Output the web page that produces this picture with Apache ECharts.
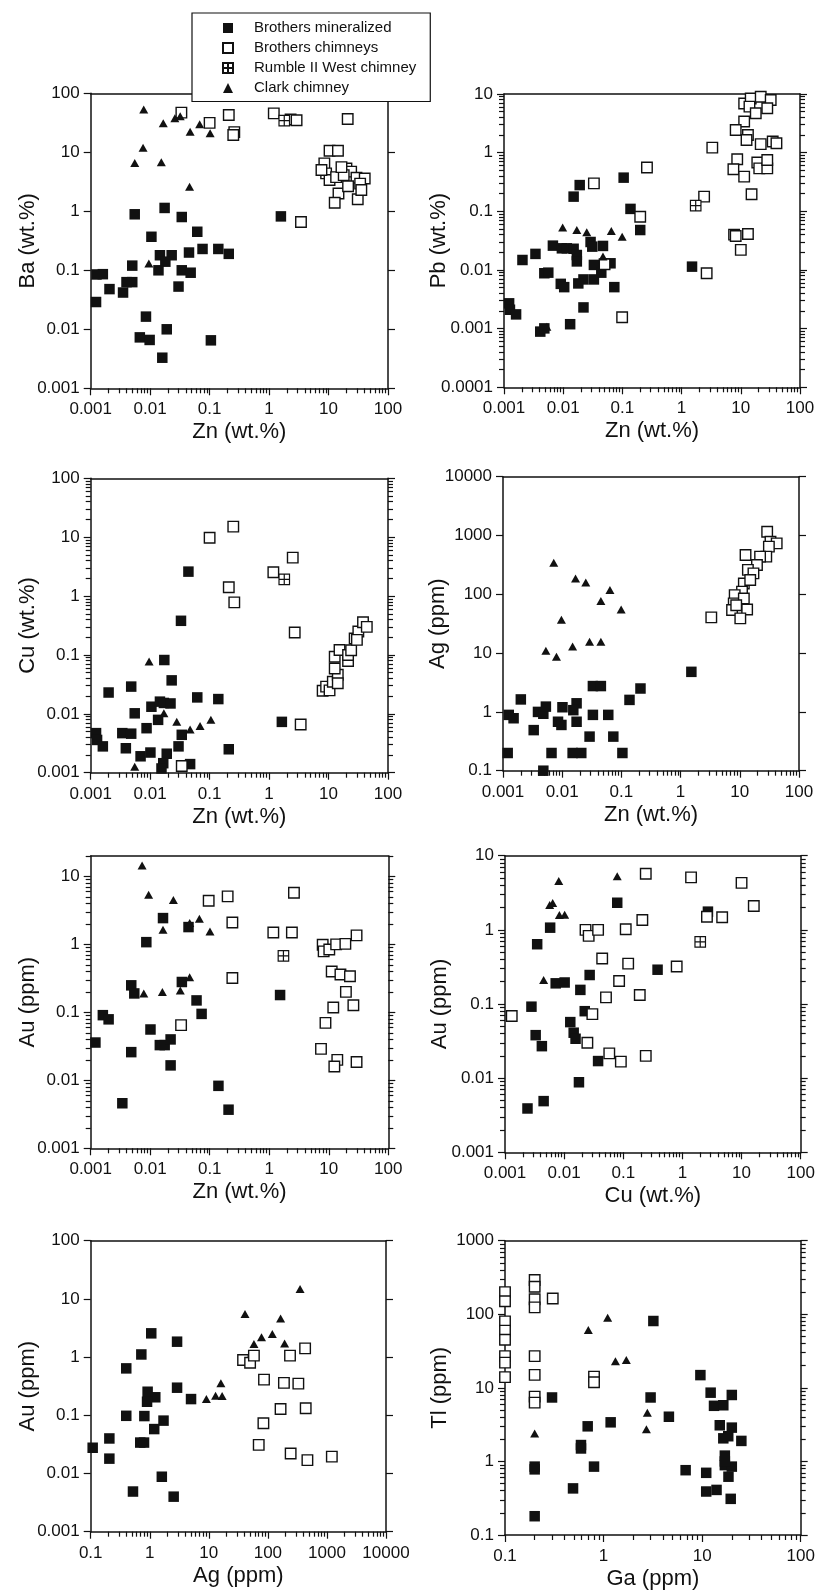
<!DOCTYPE html>
<html>
<head>
<meta charset="utf-8">
<title>Brothers / Clark chimney geochemistry</title>
<script src="https://cdn.jsdelivr.net/npm/echarts@6/dist/echarts.min.js"></script>
<style>
    html, body { margin: 0; padding: 0; background: #fff; }
    #main { width: 820px; height: 1593px; }
</style>
</head>
<body>
<div id="main"></div>
<script>
    // series order: Brothers mineralized, Brothers chimneys, Rumble II West chimney, Clark chimney
    var seriesNames = ['Brothers mineralized', 'Brothers chimneys', 'Rumble II West chimney', 'Clark chimney'];

    // Ba vs Zn  [Zn, Ba]
    var baZnMin = [[0.0055,0.89],[0.0175,1.14],[0.034,0.8],[0.062,0.45],[0.0105,0.37],[0.076,0.23],[0.14,0.23],[0.21,0.19],[0.0146,0.18],[0.023,0.18],[0.045,0.2],[0.018,0.14],[0.0138,0.1],[0.034,0.1],[0.048,0.091],[0.005,0.12],[0.00125,0.085],[0.0016,0.086],[0.00207,0.048],[0.0035,0.042],[0.004,0.063],[0.005,0.063],[0.00123,0.029],[0.03,0.053],[0.0085,0.0164],[0.0067,0.0073],[0.0098,0.0066],[0.019,0.01],[0.016,0.0033],[0.105,0.0065],[1.58,0.82]];
    var baZnChim = [[0.0335,47],[0.1,31.5],[0.21,42.8],[0.26,22],[0.25,19.7],[1.2,45.7],[2.3,36],[2.9,35],[21,36.6],[10.4,10.6],[14.4,10.6],[8.5,6.5],[9.1,4.4],[10.4,3.4],[13.4,3.8],[14.7,2.0],[12.7,1.4],[20,5.3],[24,4.7],[29.5,3.7],[21.3,2.66],[31,1.6],[40.6,3.6],[34,2.95],[35.6,2.3],[7.6,5],[18,4.1],[16.5,5.6],[3.44,0.66]];
    var baZnRum = [[1.8,34.3]];
    var baZnClark = [[0.0078,53],[0.0166,31],[0.026,37.6],[0.032,41],[0.047,22.3],[0.068,30],[0.102,21],[0.0076,11.9],[0.0055,6.6],[0.0154,6.8],[0.046,2.6],[0.0095,0.13]];

    // Pb vs Zn
    var pbZnMin = [[0.105,0.375],[0.019,0.28],[0.015,0.178],[0.137,0.11],[0.2,0.048],[1.5,0.0114],[0.00205,0.0148],[0.0034,0.0188],[0.0067,0.026],[0.0095,0.0234],[0.0115,0.0234],[0.015,0.023],[0.017,0.018],[0.017,0.014],[0.029,0.03],[0.031,0.025],[0.047,0.0257],[0.033,0.0122],[0.063,0.013],[0.044,0.009],[0.033,0.0069],[0.022,0.0069],[0.018,0.0059],[0.0091,0.0058],[0.0104,0.0051],[0.0048,0.0088],[0.0056,0.009],[0.073,0.0051],[0.022,0.0023],[0.0131,0.00119],[0.0041,0.00089],[0.0048,0.00101],[0.00122,0.0027],[0.00126,0.0021],[0.0016,0.00175]];
    var pbZnChim = [[11.4,6.9],[14.7,8.4],[21.7,9.0],[32,7.9],[14,6.1],[17.9,4.7],[28,5.7],[11.4,3.4],[8.2,2.43],[13.2,2.0],[12.5,1.64],[21.7,1.4],[34.6,1.55],[40,1.45],[3.3,1.22],[8.7,0.77],[7.5,0.52],[11.4,0.39],[19,0.68],[20.5,0.54],[28,0.54],[28,0.75],[15.2,0.195],[7.7,0.04],[8.2,0.038],[13.2,0.041],[10,0.022],[2.4,0.178],[2.65,0.0088],[0.26,0.56],[0.033,0.3],[0.2,0.081],[0.099,0.00156],[0.05,0.0125]];
    var pbZnRum = [[1.73,0.125]];
    var pbZnClark = [[0.0098,0.053],[0.017,0.048],[0.025,0.044],[0.065,0.046],[0.099,0.037],[0.047,0.017],[0.0053,0.00108]];

    // Cu vs Zn
    var cuZnMin = [[0.044,2.6],[0.033,0.38],[0.0173,0.082],[0.023,0.037],[0.002,0.023],[0.0048,0.029],[0.0055,0.0102],[0.0105,0.0132],[0.0146,0.0161],[0.017,0.0153],[0.022,0.015],[0.0136,0.0079],[0.0087,0.0057],[0.062,0.019],[0.14,0.0178],[0.0034,0.0047],[0.0048,0.0046],[0.00123,0.0047],[0.00128,0.0036],[0.0016,0.0028],[0.0039,0.0026],[0.0069,0.0019],[0.0101,0.0022],[0.019,0.0021],[0.03,0.0028],[0.034,0.0044],[0.0166,0.00145],[0.0155,0.00118],[0.047,0.0014],[0.21,0.0025],[1.64,0.0073]];
    var cuZnChim = [[0.1,9.8],[0.25,15.1],[0.21,1.41],[0.26,0.78],[1.18,2.53],[2.5,4.5],[2.7,0.24],[3.4,0.0066],[0.034,0.0013],[7.96,0.0247],[9.1,0.029],[10.4,0.025],[11.8,0.035],[14.3,0.046],[12.7,0.059],[12.7,0.093],[15.3,0.121],[21.3,0.079],[21.3,0.1],[24,0.12],[27.5,0.19],[31.7,0.25],[38,0.36],[44,0.3],[30,0.18],[14.3,0.033]];
    var cuZnRum = [[1.8,1.92]];
    var cuZnClark = [[0.0096,0.077],[0.017,0.0102],[0.028,0.0073],[0.047,0.0054],[0.069,0.0062],[0.105,0.0079],[0.0055,0.00126]];

    // Ag vs Zn
    var agZnMin = [[1.52,4.8],[0.21,2.5],[0.137,1.6],[0.033,2.75],[0.045,2.75],[0.002,1.63],[0.00125,0.89],[0.00151,0.78],[0.0039,1.0],[0.0048,0.93],[0.0053,1.23],[0.0101,1.2],[0.0085,0.68],[0.0097,0.6],[0.0175,1.4],[0.0154,1.07],[0.0175,0.68],[0.033,0.89],[0.06,0.89],[0.0033,0.49],[0.0012,0.2],[0.0066,0.2],[0.015,0.2],[0.021,0.2],[0.104,0.2],[0.029,0.38],[0.073,0.38],[0.0048,0.1]];
    var agZnChim = [[3.3,40.5],[29,1160],[33,785],[42,735],[31,646],[28,437],[22,437],[12.5,465],[19.5,315],[13.7,260],[17,227],[11.7,153],[10.9,111],[8.2,97],[7.9,70],[11.7,85],[7.4,54],[13.3,55],[10.2,39],[8.7,65],[15,175]];
    var agZnRum = [];
    var agZnClark = [[0.0072,344],[0.0168,186],[0.025,158],[0.064,118],[0.045,77],[0.099,55],[0.0097,37],[0.0053,11],[0.008,8.7],[0.015,12.9],[0.029,15.6],[0.045,15.6]];

    // Au vs Zn
    var auZnMin = [[0.0164,2.44],[0.044,1.8],[0.0086,1.08],[0.0048,0.25],[0.0054,0.19],[0.034,0.28],[0.06,0.15],[0.073,0.095],[0.0012,0.036],[0.0016,0.091],[0.002,0.079],[0.0101,0.056],[0.0145,0.033],[0.0175,0.033],[0.022,0.04],[0.022,0.0166],[0.0048,0.026],[0.0034,0.0046],[0.14,0.0083],[0.207,0.0037],[1.52,0.18]];
    var auZnChim = [[0.096,4.4],[0.2,5.1],[0.24,2.1],[0.24,0.32],[0.033,0.065],[2.6,5.75],[1.17,1.5],[2.4,1.5],[7.9,0.99],[8.2,0.79],[10.2,0.84],[13.3,1.0],[19,1.02],[29.3,1.36],[11.2,0.4],[15.7,0.36],[22.7,0.34],[19.4,0.2],[25.9,0.127],[11.9,0.118],[8.8,0.07],[7.4,0.029],[13.9,0.02],[12.4,0.016],[29.3,0.0186]];
    var auZnRum = [[1.73,0.68]];
    var auZnClark = [[0.0073,14.5],[0.0094,5.4],[0.0245,4.5],[0.0164,1.64],[0.046,2.06],[0.067,2.38],[0.101,1.55],[0.046,0.33],[0.032,0.21],[0.016,0.2],[0.0078,0.19]];

    // Au vs Cu
    var auCuMin = [[0.079,2.32],[2.7,1.76],[0.0058,1.07],[0.0035,0.64],[0.0072,0.19],[0.0102,0.195],[0.027,0.246],[0.0188,0.155],[0.38,0.29],[0.0028,0.092],[0.0223,0.08],[0.0127,0.057],[0.0145,0.041],[0.0156,0.034],[0.0033,0.038],[0.0042,0.027],[0.0375,0.017],[0.0178,0.0088],[0.0024,0.0039],[0.0045,0.0049]];
    var auCuChim = [[0.24,5.7],[1.4,5.1],[10,4.3],[16.1,2.1],[2.6,1.5],[4.7,1.48],[0.21,1.36],[0.023,1.0],[0.026,0.83],[0.0375,1.0],[0.11,1.02],[0.044,0.41],[0.121,0.35],[0.8,0.32],[0.085,0.204],[0.19,0.132],[0.051,0.123],[0.03,0.073],[0.0013,0.069],[0.0247,0.03],[0.058,0.0216],[0.091,0.0167],[0.24,0.02]];
    var auCuRum = [[2.0,0.69]];
    var auCuClark = [[0.0081,4.55],[0.079,5.3],[0.0057,2.16],[0.0064,2.3],[0.0083,1.58],[0.0102,1.6],[0.0045,0.21]];

    // Au vs Ag
    var auAgMin = [[0.108,0.0277],[0.207,0.04],[0.207,0.018],[0.4,0.098],[0.4,0.64],[0.52,0.0049],[0.72,1.11],[1.06,2.56],[2.9,1.84],[2.9,0.298],[0.92,0.254],[1.24,0.204],[0.9,0.171],[0.81,0.097],[0.69,0.034],[0.8,0.034],[1.19,0.058],[1.71,0.081],[1.6,0.0088],[2.54,0.004],[5.0,0.19]];
    var auAgChim = [[38,0.89],[50,0.8],[58,1.06],[86,0.41],[84,0.073],[70,0.031],[164,0.128],[187,0.36],[237,1.06],[328,0.35],[427,1.41],[437,0.132],[243,0.022],[467,0.017],[1210,0.0195]];
    var auAgRum = [];
    var auAgClark = [[9.1,0.19],[13,0.217],[16.8,0.215],[16,0.354],[41,5.5],[58,1.68],[78,2.19],[119,2.49],[164,4.6],[192,1.72],[351,14.8]];

    // Tl vs Ga
    var tlGaMin = [[0.2,0.85],[0.2,0.78],[0.2,0.18],[0.3,7.4],[0.69,3.0],[0.59,1.67],[0.59,1.5],[0.8,0.85],[0.49,0.43],[1.18,3.4],[3.2,81],[3.0,7.4],[4.6,4.05],[6.8,0.76],[9.6,14.9],[12.2,8.6],[13.2,5.7],[16.4,5.8],[20,8.0],[15.1,3.1],[16.4,2.06],[20,2.88],[25,1.9],[18.4,2.2],[11,0.7],[11,0.39],[14,0.41],[17,1.2],[17,0.89],[20,0.85],[18.5,0.62],[19.5,0.31],[17,1.0]];
    var tlGaChim = [[0.1,200],[0.1,150],[0.1,80],[0.1,60],[0.1,45],[0.1,27],[0.1,22],[0.1,14],[0.2,292],[0.2,237],[0.2,160],[0.2,124],[0.2,27],[0.2,15],[0.2,7.6],[0.2,6.3],[0.305,164],[0.8,14.2],[0.8,11.9]];
    var tlGaRum = [];
    var tlGaClark = [[0.2,2.4],[0.7,61],[1.1,90],[1.32,23],[1.7,24],[2.78,4.6],[2.72,2.73]];

    var ink = '#111';
    var font = "'Liberation Sans', Arial, Helvetica, sans-serif";

    // box = [left, top, width, height] of each plot area
    var panels = [
        { x: [0.001, 100], y: [0.001, 100], xName: 'Zn (wt.%)', yName: 'Ba (wt.%)', yMinor: false, sets: [baZnMin, baZnChim, baZnRum, baZnClark], box: [90.7, 93.3, 297.3, 295] },
        { x: [0.001, 100], y: [0.0001, 10], xName: 'Zn (wt.%)', yName: 'Pb (wt.%)', yMinor: true, sets: [pbZnMin, pbZnChim, pbZnRum, pbZnClark], box: [504, 94, 296, 293.3] },
        { x: [0.001, 100], y: [0.001, 100], xName: 'Zn (wt.%)', yName: 'Cu (wt.%)', yMinor: true, sets: [cuZnMin, cuZnChim, cuZnRum, cuZnClark], box: [90.7, 478.3, 297.3, 294.4] },
        { x: [0.001, 100], y: [0.1, 10000], xName: 'Zn (wt.%)', yName: 'Ag (ppm)', yMinor: false, sets: [agZnMin, agZnChim, agZnRum, agZnClark], box: [503, 476.7, 296, 294] },
        { x: [0.001, 100], y: [0.001, 20], xName: 'Zn (wt.%)', yName: 'Au (ppm)', yMinor: true, sets: [auZnMin, auZnChim, auZnRum, auZnClark], box: [90.7, 856, 297.6, 292.3] },
        { x: [0.001, 100], y: [0.001, 10], xName: 'Cu (wt.%)', yName: 'Au (ppm)', yMinor: true, sets: [auCuMin, auCuChim, auCuRum, auCuClark], box: [505, 855.7, 295.7, 296.6] },
        { x: [0.1, 10000], y: [0.001, 100], xName: 'Ag (ppm)', yName: 'Au (ppm)', yMinor: false, sets: [auAgMin, auAgChim, auAgRum, auAgClark], box: [90.7, 1240.7, 295.3, 291] },
        { x: [0.1, 100], y: [0.1, 1000], xName: 'Ga (ppm)', yName: 'Tl (ppm)', yMinor: true, sets: [tlGaMin, tlGaChim, tlGaRum, tlGaClark], box: [505, 1240.7, 295.7, 294.3] }
    ];

    var markStyles = [
        { symbol: 'rect', symbolSize: 10.5, itemStyle: { color: ink, opacity: 1 } },
        { symbol: 'rect', symbolSize: 10.5, itemStyle: { color: '#fff', borderColor: ink, borderWidth: 1.4, opacity: 1 } },
        { symbol: 'path://M0 0H10V10H0Z M5 0V10 M0 5H10', symbolSize: 10.5, itemStyle: { color: '#fff', borderColor: ink, borderWidth: 1.2, opacity: 1 } },
        { symbol: 'triangle', symbolSize: [9, 8], itemStyle: { color: ink, opacity: 1 } }
    ];

    function lg(v) { return Math.log(v) / Math.LN10; }

    function majors(r) {
        var out = [];
        for (var e = Math.ceil(lg(r[0]) - 1e-9); e <= Math.floor(lg(r[1]) + 1e-9); e++) out.push(Number('1e' + e));
        return out;
    }

    function minors(r) {
        var out = [];
        for (var e = Math.floor(lg(r[0]) + 1e-9); e <= Math.floor(lg(r[1]) + 1e-9); e++) {
            for (var k = 2; k <= 9; k++) {
                var v = k * Number('1e' + e);
                if (v > r[0] && v <= r[1] * (1 + 1e-9)) out.push(v);
            }
        }
        return out;
    }

    // pull end values just inside the extent so they survive the range filter
    function inside(vals, r) {
        return vals.map(function (v) {
            return Math.min(Math.max(v, r[0] * (1 + 1e-9)), r[1] * (1 - 1e-9));
        });
    }

    function fmt(v) { return String(Number('1e' + Math.round(lg(v)))); }

    function baseAxis(gi, r, pos) {
        return {
            type: 'log', gridIndex: gi, min: r[0], max: r[1], position: pos,
            splitLine: { show: false },
            axisLine: { show: false, onZero: false, lineStyle: { color: ink, width: 1.5 } },
            axisTick: { show: false },
            axisLabel: { show: false }
        };
    }

    // an extra axis that only carries the 2..9 ticks of each decade
    function minorAxis(gi, r, pos) {
        var a = baseAxis(gi, r, pos);
        a.axisTick = { show: true, customValues: inside(minors(r), r), length: 5, lineStyle: { color: ink, width: 1.2 } };
        return a;
    }

    var grids = [], xAxes = [], yAxes = [], series = [];

    panels.forEach(function (p, i) {
        grids.push({ left: p.box[0], top: p.box[1], width: p.box[2], height: p.box[3] });

        var xi = xAxes.length, yi = yAxes.length;

        // bottom axis: labels, name, decade ticks
        var xm = baseAxis(i, p.x, 'bottom');
        xm.axisLine.show = true;
        xm.axisTick = { show: true, customValues: inside(majors(p.x), p.x), length: 7, lineStyle: { color: ink, width: 1.2 } };
        xm.axisLabel = { show: true, customValues: inside(majors(p.x), p.x), formatter: fmt, fontSize: 17, color: ink, fontFamily: font, margin: 13 };
        xm.name = p.xName;
        xm.nameLocation = 'middle';
        xm.nameGap = 33;
        xm.nameMoveOverlap = false;
        xm.nameTextStyle = { fontSize: 22, color: ink, fontFamily: font };
        xAxes.push(xm);

        xAxes.push(minorAxis(i, p.x, 'bottom'));

        // top border
        var xt = baseAxis(i, p.x, 'top');
        xt.axisLine.show = true;
        xAxes.push(xt);

        // left axis with labels
        var ym = baseAxis(i, p.y, 'left');
        ym.axisLine.show = true;
        ym.axisTick = { show: true, customValues: inside(majors(p.y), p.y), length: 7, lineStyle: { color: ink, width: 1.2 } };
        ym.axisLabel = { show: true, customValues: inside(majors(p.y), p.y), formatter: fmt, fontSize: 17, color: ink, fontFamily: font, margin: 11 };
        ym.name = p.yName;
        ym.nameLocation = 'middle';
        ym.nameGap = p.box[0] > 400 ? 54 : 52;
        ym.nameMoveOverlap = false;
        ym.nameTextStyle = { fontSize: 22, color: ink, fontFamily: font };
        yAxes.push(ym);

        if (p.yMinor) yAxes.push(minorAxis(i, p.y, 'left'));

        // right border with ticks
        var yr = baseAxis(i, p.y, 'right');
        yr.axisLine.show = true;
        yr.axisTick = { show: true, customValues: inside(majors(p.y), p.y), length: 7, lineStyle: { color: ink, width: 1.2 } };
        yAxes.push(yr);

        if (p.yMinor) yAxes.push(minorAxis(i, p.y, 'right'));

        p.sets.forEach(function (d, k) {
            series.push(Object.assign({
                name: seriesNames[k],
                type: 'scatter',
                xAxisIndex: xi,
                yAxisIndex: yi,
                clip: false,
                data: d
            }, markStyles[k]));
        });
    });

    var myChart = echarts.init(document.getElementById('main'), null, { renderer: 'canvas' });

    var option = {
        animation: false,
        backgroundColor: '#fff',
        legend: {
            data: seriesNames,
            orient: 'vertical',
            left: 192,
            top: 13,
            itemWidth: 10,
            itemHeight: 10,
            itemGap: 5,
            padding: [7.5, 14, 6, 30],
            backgroundColor: '#fff',
            borderColor: ink,
            borderWidth: 1.2,
            selectedMode: false,
            z: 10,
            textStyle: { fontSize: 15, lineHeight: 15, color: ink, fontFamily: font, padding: [0, 0, 0, 16] }
        },
        grid: grids,
        xAxis: xAxes,
        yAxis: yAxes,
        series: series
    };

    myChart.setOption(option);
</script>
</body>
</html>
